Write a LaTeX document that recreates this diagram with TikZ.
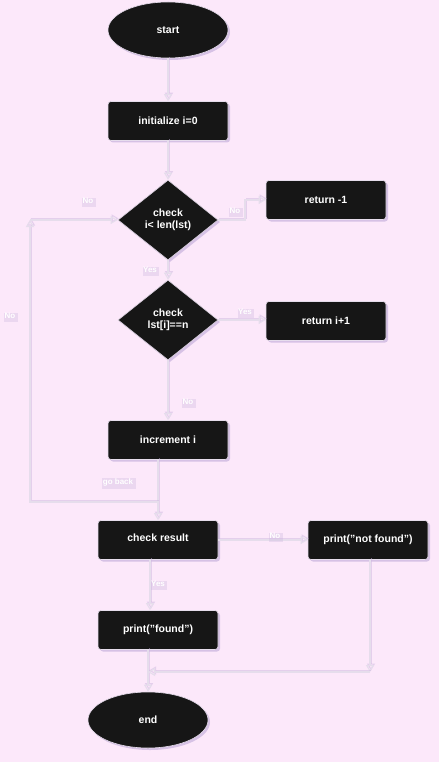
\documentclass[tikz,border=0pt]{standalone}
\usepackage{fontspec}
\setmainfont{Liberation Sans}
\usetikzlibrary{shapes.geometric,arrows.meta,shadows}
\definecolor{bg}{HTML}{FCE8FA}
\definecolor{nodefill}{HTML}{161616}
\definecolor{edgecol}{HTML}{E6DDEC}
\definecolor{shad}{HTML}{CDB8E0}
\begin{document}
\begin{tikzpicture}[x=1pt,y=-1pt,
  nd/.style={fill=nodefill, draw=edgecol, line width=0.6pt, text=white,
    font=\fontsize{10.5}{12.5}\selectfont\bfseries, align=center,
    drop shadow={fill=shad, shadow xshift=2pt, shadow yshift=-2pt, opacity=0.8}},
  box/.style={nd, rectangle, rounded corners=3pt, minimum width=120pt, minimum height=39pt},
  term/.style={nd, ellipse, minimum width=120pt, minimum height=56pt},
  dec/.style={nd, diamond, minimum width=100pt, minimum height=80pt, inner sep=0pt},
  arr/.style={draw=edgecol, line width=1.3pt,
    -{Triangle[open, length=7pt, width=8pt, line width=1.1pt]},
    preaction={draw=shad, opacity=0.5, transform canvas={shift={(1pt,1.5pt)}}}},
  lbl/.style={text=white, font=\fontsize{8}{9}\selectfont\bfseries, inner sep=1.5pt,
    drop shadow={fill=shad, shadow xshift=1pt, shadow yshift=-1.5pt, opacity=0.35}}
]
\fill[bg] (0,0) rectangle (439,762);
\useasboundingbox (0,0) rectangle (439,762);

\node[term] (start) at (168,30) {start};
\node[box] (init) at (168,121) {initialize i=0};
\node[dec] (d1) at (168,220) {check\\i< len(lst)};
\node[box] (r1) at (326,200) {return -1};
\node[dec] (d2) at (168,320) {check\\lst[i]==n};
\node[box] (r2) at (326,321) {return i+1};
\node[box] (inc) at (168,440) {increment i};
\node[box, text depth=5pt] (cr) at (158,540) {check result};
\node[box] (nf) at (368,540) {print("not found")};
\node[box] (fd) at (158,630) {print("found")};
\node[term] (end) at (148,720) {end};

\coordinate (k1) at (245,220);
\coordinate (gb) at (158,502);
\coordinate (gu) at (30,220);
\coordinate (m1) at (370,672);

\draw[arr] (start) -- (init);
\draw[arr] (init) -- (d1);
\draw[arr] (d1.east) -- (k1) |- (r1.west);
\draw[arr] (d1.south) -- (d2.north);
\draw[arr] (d2.east) -- (d2.east -| r2.west);
\draw[arr] (d2.south) -- (inc.north);
\draw[arr] (cr.north |- inc.south) -- (cr.north);
\draw[arr] (gb) -| (gu);
\draw[arr] (gu) -- (d1.west);
\draw[arr] (cr.east) -- (nf.west);
\draw[arr] ([xshift=-8pt]cr.south) -- ([xshift=-8pt]fd.north);
\draw[arr] (fd.south -| end.north) -- (end.north);
\draw[arr] (nf.south -| m1) -- (m1);
\draw[arr] (m1) -- (m1 -| end.north);

\node[lbl] (l1) at (88,201) {No};
\node[lbl] (l2) at (235,211) {No};
\node[lbl] (l3) at (150,270) {Yes};
\node[lbl] (l4) at (245,312) {Yes};
\node[lbl] (l5) at (188,402) {No};
\node[lbl] (l6) at (10,316) {No};
\node[lbl] (l7) at (118,482) {go back};
\node[lbl] (l8) at (275,536) {No};
\node[lbl] (l9) at (158,584) {Yes};
\end{tikzpicture}
\end{document}
